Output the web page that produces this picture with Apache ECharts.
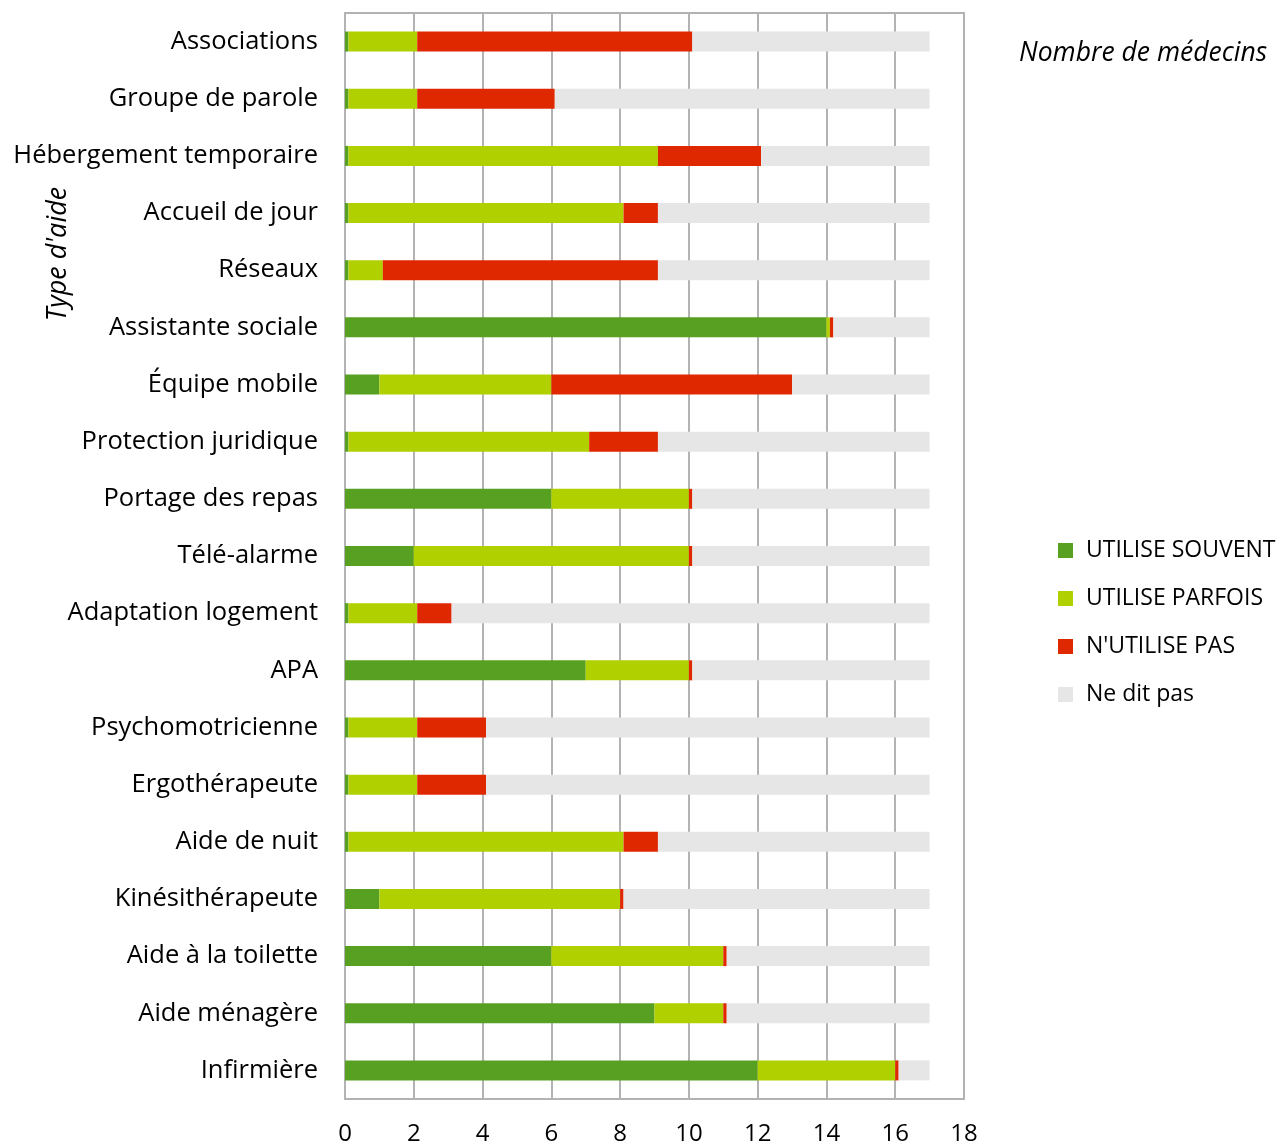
<!DOCTYPE html>
<html>
<head>
<meta charset="utf-8">
<script src="https://cdn.jsdelivr.net/npm/echarts@6/dist/echarts.min.js"></script>
<style>
html,body{margin:0;padding:0;background:#fff;}
#chart{width:1288px;height:1146px;}
</style>
</head>
<body>
<div id="chart"></div>
<script>
var categories = ["Associations","Groupe de parole","Hébergement temporaire","Accueil de jour","Réseaux","Assistante sociale","Équipe mobile","Protection juridique","Portage des repas","Télé-alarme","Adaptation logement","APA","Psychomotricienne","Ergothérapeute","Aide de nuit","Kinésithérapeute","Aide à la toilette","Aide ménagère","Infirmière"];
var utiliseSouvent = [0.1,0.1,0.1,0.1,0.1,14,1,0.1,6,2,0.1,7,0.1,0.1,0.1,1,6,9,12];
var utiliseParfois = [2,2,9,8,1,0.1,5,7,4,8,2,3,2,2,8,7,5,2,4];
var nUtilisePas = [8,4,3,1,8,0.1,7,2,0.1,0.1,1,0.1,2,2,1,0.1,0.1,0.1,0.1];
var neDitPas = [6.9,10.9,4.9,7.9,7.9,2.8,4,7.9,6.9,6.9,13.9,6.9,12.9,12.9,7.9,8.9,5.9,5.9,0.9];
var seriesNames = ["UTILISE SOUVENT","UTILISE PARFOIS","N'UTILISE PAS","Ne dit pas"];
var xTicks = {min:0, max:18, interval:2};

var colors = ['#58a021','#b0d000','#e02800','#e6e6e6'];
var FONT = '"Open Sans", sans-serif';
var chart = echarts.init(document.getElementById('chart'), null, {renderer:'canvas'});
var data = [utiliseSouvent, utiliseParfois, nUtilisePas, neDitPas];
var series = seriesNames.map(function(n,i){
  return {name:n, type:'bar', stack:'total', data:data[i], barWidth:20,
    itemStyle:{color:colors[i]}, emphasis:{disabled:true}};
});
chart.setOption({
  animation:false,
  textStyle:{fontFamily:FONT},
  grid:{left:345, right:324, top:13, bottom:47, show:true, borderColor:'#b3b3b3', borderWidth:2, containLabel:false},
  title:{text:'Nombre de médecins', left:1019, top:40, padding:0,
    textStyle:{fontFamily:FONT, fontStyle:'italic', fontWeight:'normal', fontSize:26.5, color:'#000'}},
  graphic:[{type:'text', x:58, y:254, rotation:Math.PI/2,
    style:{text:"Type d'aide", fontFamily:FONT, fontStyle:'italic', fontSize:27, fill:'#000', align:'center', verticalAlign:'middle'}}],
  legend:{orient:'vertical', left:1058, top:539, padding:0, itemWidth:15, itemHeight:15, itemGap:25,
    icon:'rect', data:seriesNames,
    textStyle:{fontFamily:FONT, fontSize:23, color:'#000', padding:[0,0,0,8]}},
  xAxis:{type:'value', min:xTicks.min, max:xTicks.max, interval:xTicks.interval,
    axisLine:{show:false}, axisTick:{show:false},
    splitLine:{show:true, lineStyle:{color:'#b3b3b3', width:2}},
    axisLabel:{fontFamily:FONT, fontSize:24, color:'#000', margin:23}},
  yAxis:{type:'category', data:categories, inverse:true,
    axisLine:{show:true, lineStyle:{color:'#b3b3b3', width:2}}, axisTick:{show:false},
    axisLabel:{fontFamily:FONT, fontSize:25.5, color:'#000', margin:27}},
  series:series
});
</script>
</body>
</html>
